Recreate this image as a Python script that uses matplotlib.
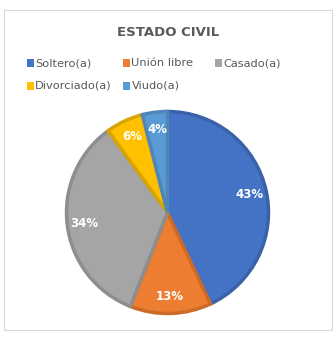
import matplotlib.pyplot as plt
from matplotlib.patches import Rectangle

categories = ['Soltero(a)', 'Unión libre', 'Casado(a)', 'Divorciado(a)', 'Viudo(a)']
values = [43, 13, 34, 6, 4]
colors = ['#4472C4', '#ED7D31', '#A5A5A5', '#FFC000', '#5B9BD5']
edges = ['#3A62A8', '#CC6A28', '#8E8E8E', '#D9A400', '#4E86B8']

W, H = 336, 337
fig = plt.figure(figsize=(W / 100, H / 100), dpi=100)
fig.patches.append(Rectangle((4 / W, 1 - 330 / H), 328 / W, 320 / H, transform=fig.transFigure,
                             fill=False, edgecolor='#D9D9D9', linewidth=0.8))

fig.text(168 / W, 1 - 32 / H, 'ESTADO CIVIL', ha='center', va='center', fontsize=9.5,
         fontweight='bold', color='#595959', family='DejaVu Sans')

# legend laid out like Excel: entries flow in rows
slots = [(30, 63), (126, 63), (218, 63), (30, 86), (127, 86)]
for (x, y), name, c in zip(slots, categories, colors):
    fig.patches.append(Rectangle((x / W - 3.5 / W, 1 - (y + 3.5) / H), 7 / W, 7 / H,
                                 transform=fig.transFigure, facecolor=c, edgecolor='none'))
    fig.text((x + 5) / W, 1 - y / H, name, ha='left', va='center', fontsize=8.2,
             color='#595959', family='DejaVu Sans')

# pie centre ~ (167.5, 212.5) px, radius ~101 px
r = 101
ax = fig.add_axes([(167.5 - 1.25 * r) / W, 1 - (212.5 + 1.25 * r) / H, 2.5 * r / W, 2.5 * r / H])
wedges, texts, autotexts = ax.pie(values, colors=colors, startangle=90, counterclock=False,
                                  autopct='%1.0f%%', pctdistance=0.83,
                                  wedgeprops={'linewidth': 2.5},
                                  textprops={'color': 'white', 'fontsize': 8.5,
                                             'fontweight': 'bold', 'family': 'DejaVu Sans'})
for w, e in zip(wedges, edges):
    w.set_edgecolor(e)
ax.set_xlim(-1.25, 1.25)
ax.set_ylim(-1.25, 1.25)
ax.set_aspect('equal')

fig.savefig('out.png', dpi=100)
